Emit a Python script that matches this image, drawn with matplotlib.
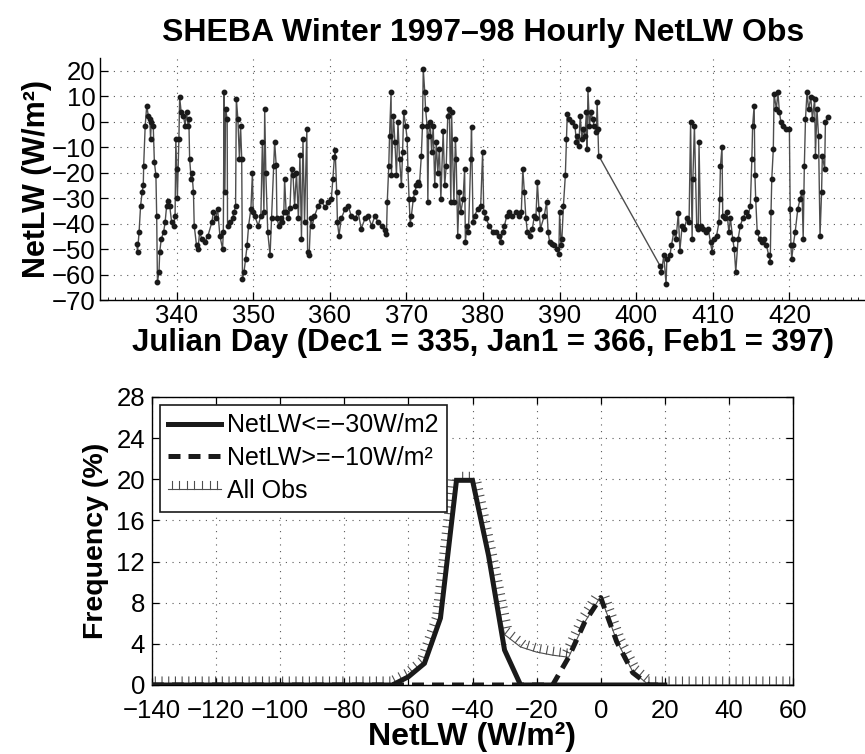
import numpy as np
import matplotlib
matplotlib.use("Agg")
import matplotlib.pyplot as plt
from matplotlib import patheffects

plt.rcParams['font.family'] = ['Liberation Sans', 'DejaVu Sans']

# --- top panel: hourly NetLW time series ---
julian_day = [
    334.8, 334.9, 335.1, 335.3, 335.5, 335.65, 335.7, 335.9, 336.1, 336.3,
    336.5, 336.6, 336.7, 336.95, 337.1, 337.3, 337.4, 337.5, 337.7, 337.8,
    338.0, 338.3, 338.5, 338.7, 338.9, 339.1, 339.35, 339.6, 339.8, 339.9,
    340.0, 340.1, 340.3, 340.4, 340.6, 340.9, 341.1, 341.3, 341.5, 341.6,
    341.7, 341.9, 342.0, 342.2, 342.3, 342.6, 342.8, 343.0, 343.3, 343.7,
    344.1, 344.6, 344.8, 345.1, 345.35, 345.65, 346.0, 346.1, 346.2, 346.3,
    346.4, 346.6, 346.65, 347.0, 347.3, 347.5, 347.7, 347.8, 348.0, 348.2,
    348.35, 348.5, 348.6, 348.8, 349.0, 349.2, 349.4, 349.7, 349.9, 350.0,
    350.2, 350.65, 351.0, 351.2, 351.4, 351.5, 351.65, 351.9, 352.2, 352.4,
    352.7, 352.8, 353.0, 353.1, 353.35, 353.6, 353.8, 354.0, 354.1, 354.3,
    354.6, 354.8, 355.0, 355.2, 355.4, 355.65, 355.9, 356.1, 356.3, 356.5,
    356.7, 357.0, 357.1, 357.3, 357.5, 357.7, 358.0, 358.5, 358.9, 359.35,
    359.8, 360.2, 360.4, 360.6, 360.7, 360.9, 361.0, 361.2, 361.5, 362.0,
    362.4, 362.8, 363.3, 363.7, 364.1, 364.6, 365.0, 365.45, 365.9, 366.3,
    366.75, 367.2, 367.4, 367.5, 367.7, 367.8, 368.0, 368.05, 368.3, 368.5,
    368.7, 368.9, 369.1, 369.35, 369.5, 369.65, 369.9, 370.1, 370.2, 370.35,
    370.5, 370.65, 370.9, 371.1, 371.3, 371.5, 371.7, 371.95, 372.1, 372.2,
    372.4, 372.5, 372.7, 372.8, 372.9, 373.1, 373.3, 373.5, 373.7, 373.9,
    374.1, 374.3, 374.5, 374.8, 375.0, 375.2, 375.4, 375.6, 375.8, 375.9,
    376.2, 376.4, 376.5, 376.7, 376.9, 377.1, 377.4, 377.6, 377.7, 377.9,
    378.1, 378.4, 378.5, 378.7, 378.9, 379.3, 379.7, 379.95, 380.1, 380.4,
    380.8, 381.3, 381.7, 382.1, 382.3, 382.55, 382.8, 383.1, 383.4, 383.85,
    384.3, 384.7, 385.0, 385.2, 385.4, 385.6, 385.8, 386.1, 386.45, 386.7,
    386.9, 387.1, 387.3, 387.5, 388.0, 388.3, 388.5, 388.7, 389.0, 389.3,
    389.7, 389.9, 390.0, 390.2, 390.3, 390.5, 390.75, 390.9, 391.0, 391.2,
    391.6, 392.0, 392.2, 392.3, 392.5, 392.7, 392.9, 393.1, 393.3, 393.5,
    393.6, 393.7, 393.9, 394.1, 394.3, 394.5, 394.8, 394.9, 395.0, 395.1,
    403.1, 403.3, 403.6, 403.9, 404.0, 404.4, 404.6, 404.9, 405.2, 405.5,
    405.7, 406.0, 406.3, 406.6, 406.9, 407.1, 407.3, 407.4, 407.6, 407.9,
    408.1, 408.2, 408.4, 408.7, 409.1, 409.4, 409.7, 409.9, 410.1, 410.5,
    410.8, 410.9, 411.0, 411.2, 411.3, 411.6, 411.85, 412.1, 412.3, 412.6,
    412.8, 413.0, 413.3, 413.6, 413.9, 414.3, 414.6, 414.9, 415.1, 415.2,
    415.4, 415.5, 415.6, 415.8, 416.1, 416.4, 416.7, 417.0, 417.3, 417.5,
    417.6, 417.7, 417.9, 418.0, 418.3, 418.5, 418.7, 418.9, 419.1, 419.6,
    420.0, 420.1, 420.2, 420.3, 420.5, 420.75, 421.1, 421.4, 421.65, 421.8,
    421.95, 422.1, 422.3, 422.5, 422.8, 423.0, 423.3, 423.4, 423.6, 423.8,
    424.0, 424.2, 424.3, 424.6, 424.7, 425.0,
]
net_lw = [
    -48, -51, -43.4, -33, -27.7, -25, -17.3, -1.6, 6.3, 2.4,
    1, -6.8, 0, -1.6, -16, -21, -37, -63, -59, -51,
    -46, -43.4, -39.5, -33, -31, -33, -39.5, -40.8, -37, -6.8,
    -18.6, -30, -6.8, 9.5, 3.7, 2.4, -1.6, 3.7, -1.6, 1,
    -14.6, -22.5, -20, -27.7, -40.8, -48.6, -50, -43.4, -46, -47.3,
    -44.7, -39.5, -35.6, -38, -34.2, -44.7, -50, -43.4, 11.5, -27.7,
    5, 1, -40.8, -39.5, -38, -35.6, -33, 9, 1, -14.6,
    -1.6, -14.6, -61.7, -59, -54, -48.6, -40.8, -34.2, -20, -35.6,
    -37, -40.8, -37, -8, -35.6, 5, -20, -43.4, -52.5, -38,
    -17.3, -8, -17, -38, -40.8, -38, -39.5, -35.6, -22.5, -35.6,
    -38, -34, -18.6, -21, -33, -20, -38, -13, -46, -6.8,
    -39.5, -3, -51, -52.5, -38, -40.8, -37, -33, -31, -33.6,
    -31.6, -30.3, -22.5, -14, -11, -27.7, -39.5, -44.7, -38, -34.2,
    -33, -37, -38, -35.6, -42, -38, -37, -40.8, -37, -39.5,
    -40.8, -42.7, -44, -31.6, -17.3, -5.5, 11.5, -21, 2.4, -8,
    -21, -0.3, -14.6, -25, -12, 3.7, -1.6, -6.8, -18.6, -30.3,
    -40, -37, -30.3, -27.7, -25, -23.8, -25, -13.3, -1.6, 20.7,
    11.5, 5, -1.6, -31.6, -5.5, -0.3, -12, -1.6, -25, -8,
    -20, -10.7, -30.3, -3.5, -25, -17.3, 2.4, 5, -31.6, 3.7,
    -31.6, -6.8, -14.6, -44.7, -27.7, -35.6, -30.3, -18.6, -47.3, -40.8,
    -43.4, -14.6, -2.2, -39.5, -37, -34.2, -33, -12, -35.6, -38,
    -40.8, -43.4, -43.4, -44.7, -47.3, -43.4, -40.8, -37, -35.6, -37,
    -35.6, -37, -35.6, -18.6, -27.7, -38, -43.4, -44.7, -42, -37,
    -38, -23.8, -34.2, -42, -37, -31.6, -43.4, -47.3, -48, -48.6,
    -50, -52, -35.6, -48.6, -46, -33, -21, -6.8, 3, 1,
    -0.3, -1.6, -8, -5.5, -9.4, 2.4, -6.8, -3, -5.5, 3.7,
    -10.7, 12.8, -1.6, 3.7, 1, -1.6, -4.2, 7.6, -2.9, -13.3,
    -56.5, -59, -52.5, -63.7, -54, -52.5, -48.6, -43.4, -46, -36,
    -50.6, -40.8, -42, -38, -39.5, -0.3, -46, -22.5, -1.6, -40.8,
    -42, -8, -40.8, -42, -43.4, -42, -47.3, -51, -46, -44.7,
    -39.5, -30.3, -17.3, -10, -37, -38, -35.6, -43.4, -38, -46,
    -50, -59, -46, -40.8, -38, -35.6, -37, -33, -14.6, -1.6,
    6.3, -21, -30.3, -43.4, -46, -47.3, -46, -48.6, -52.5, -55,
    -35.6, -22.5, -10.7, 10.8, 5, 11.5, 3.7, -0.3, -1.6, -3,
    -3, -34.2, -48.6, -54, -48.6, -43.4, -34.2, -30.3, -27.7, -46,
    -17.3, 1, 11.5, 5, 9.5, 1, 9, -13.3, 5, -5.5,
    -44.7, -27.7, -13.3, -18.6, -0.3, 1.7,
]

# --- bottom panel: frequency distributions ---
netlw_bins = [-140, -65, -60, -55, -50, -45, -40, -35, -30, -25,
              -20, -15, -10, -5, 0, 5, 10, 15, 20]
freq_cold = [0, 0, 0.8, 2.1, 6.5, 19.9, 19.9, 12.6, 3.4, 0,
             0, 0, 0, 0, 0, 0, 0, 0, 0]
freq_warm = [0, 0, 0, 0, 0, 0, 0, 0, 0, 0,
             0, 0, 2.7, 6.1, 8.5, 4.2, 1.2, 0, 0]
allobs_bins = [-140, -65, -60, -55, -50, -45, -40, -35, -30, -25,
               -20, -15, -10, -5, 0, 5, 10, 15, 20, 60]
freq_all = [0, 0, 0.8, 2.1, 6.5, 19.9, 19.9, 12.6, 4.9, 3.7,
            3.2, 2.9, 2.7, 6.1, 8.6, 4.3, 1.3, 0, 0, 0]

W, H = 865, 754
fig = plt.figure(figsize=(W / 100, H / 100), dpi=100)

grid_kw = dict(color='0.35', linestyle=(0, (1, 5)), linewidth=0.8)

# top axes
ax1 = fig.add_axes([100 / W, 1 - 300 / H, 766 / W, 242 / H])
ax1.plot(julian_day, net_lw, color='0.3', linewidth=1.0, marker='o',
         markersize=3.2, markerfacecolor='#1a1a1a', markeredgecolor='#1a1a1a',
         clip_on=False)
ax1.set_xlim(330, 430)
ax1.set_ylim(-70, 25)
ax1.set_xticks(np.arange(340, 421, 10))
ax1.set_xticks(np.arange(330, 431, 1), minor=True)
ax1.set_yticks(np.arange(-70, 21, 10))
ax1.spines['top'].set_visible(False)
ax1.spines['right'].set_visible(False)
for s in ax1.spines.values():
    s.set_linewidth(1.0)
ax1.tick_params(which='major', direction='in', length=6, width=0.9, labelsize=18.5, pad=3)
ax1.tick_params(which='minor', direction='in', length=2.5, width=0.6)
ax1.grid(True, which='major', **grid_kw)
ax1.set_xlabel('Julian Day (Dec1 = 335, Jan1 = 366, Feb1 = 397)',
               fontsize=22.5, fontweight='bold', labelpad=0)
ax1.set_ylabel('NetLW (W/m²)', fontsize=22, fontweight='bold', labelpad=0)
ax1.set_title('SHEBA Winter 1997\u201398 Hourly NetLW Obs', fontsize=23,
              fontweight='bold', pad=12)

# bottom axes
ax2 = fig.add_axes([152 / W, 1 - 685 / H, 641 / W, 288 / H])
ax2.plot(allobs_bins, freq_all, color='0.3', linewidth=0.8, zorder=2,
         label='All Obs',
         path_effects=[patheffects.withTickedStroke(angle=90, spacing=4.8, length=1.2)])
ax2.plot(netlw_bins, freq_cold, color='#1a1a1a', linewidth=3.6, zorder=3,
         solid_joinstyle='miter', label='NetLW<=\u221230W/m2')
ax2.plot(netlw_bins, freq_warm, color='#1a1a1a', linewidth=3.6, zorder=4,
         dashes=(2.4, 1.6), label='NetLW>=\u221210W/m²')
ax2.set_xlim(-140, 60)
ax2.set_ylim(0, 28)
ax2.set_xticks(np.arange(-140, 61, 20))
ax2.set_yticks(np.arange(0, 29, 4))
for s in ax2.spines.values():
    s.set_linewidth(1.0)
ax2.tick_params(direction='in', length=5, width=0.9, labelsize=18.5,
                top=True, right=True)
ax2.tick_params(axis='x', pad=10)
ax2.tick_params(axis='y', pad=5)
ax2.grid(True, **grid_kw)
ax2.set_xlabel('NetLW (W/m²)', fontsize=23, fontweight='bold', labelpad=-1)
ax2.set_ylabel('Frequency (%)', fontsize=20.5, fontweight='bold', labelpad=5)

handles, labels = ax2.get_legend_handles_labels()
order = [1, 2, 0]
leg = ax2.legend([handles[i] for i in order], [labels[i] for i in order],
                 loc='upper left', fontsize=18, frameon=True, fancybox=False,
                 borderaxespad=0.3, borderpad=0.35, labelspacing=0.35,
                 handlelength=2.1, handletextpad=0.25, framealpha=1)
leg.get_frame().set_edgecolor('#1a1a1a')
leg.get_frame().set_linewidth(1.2)

fig.savefig('out.png', dpi=100)
